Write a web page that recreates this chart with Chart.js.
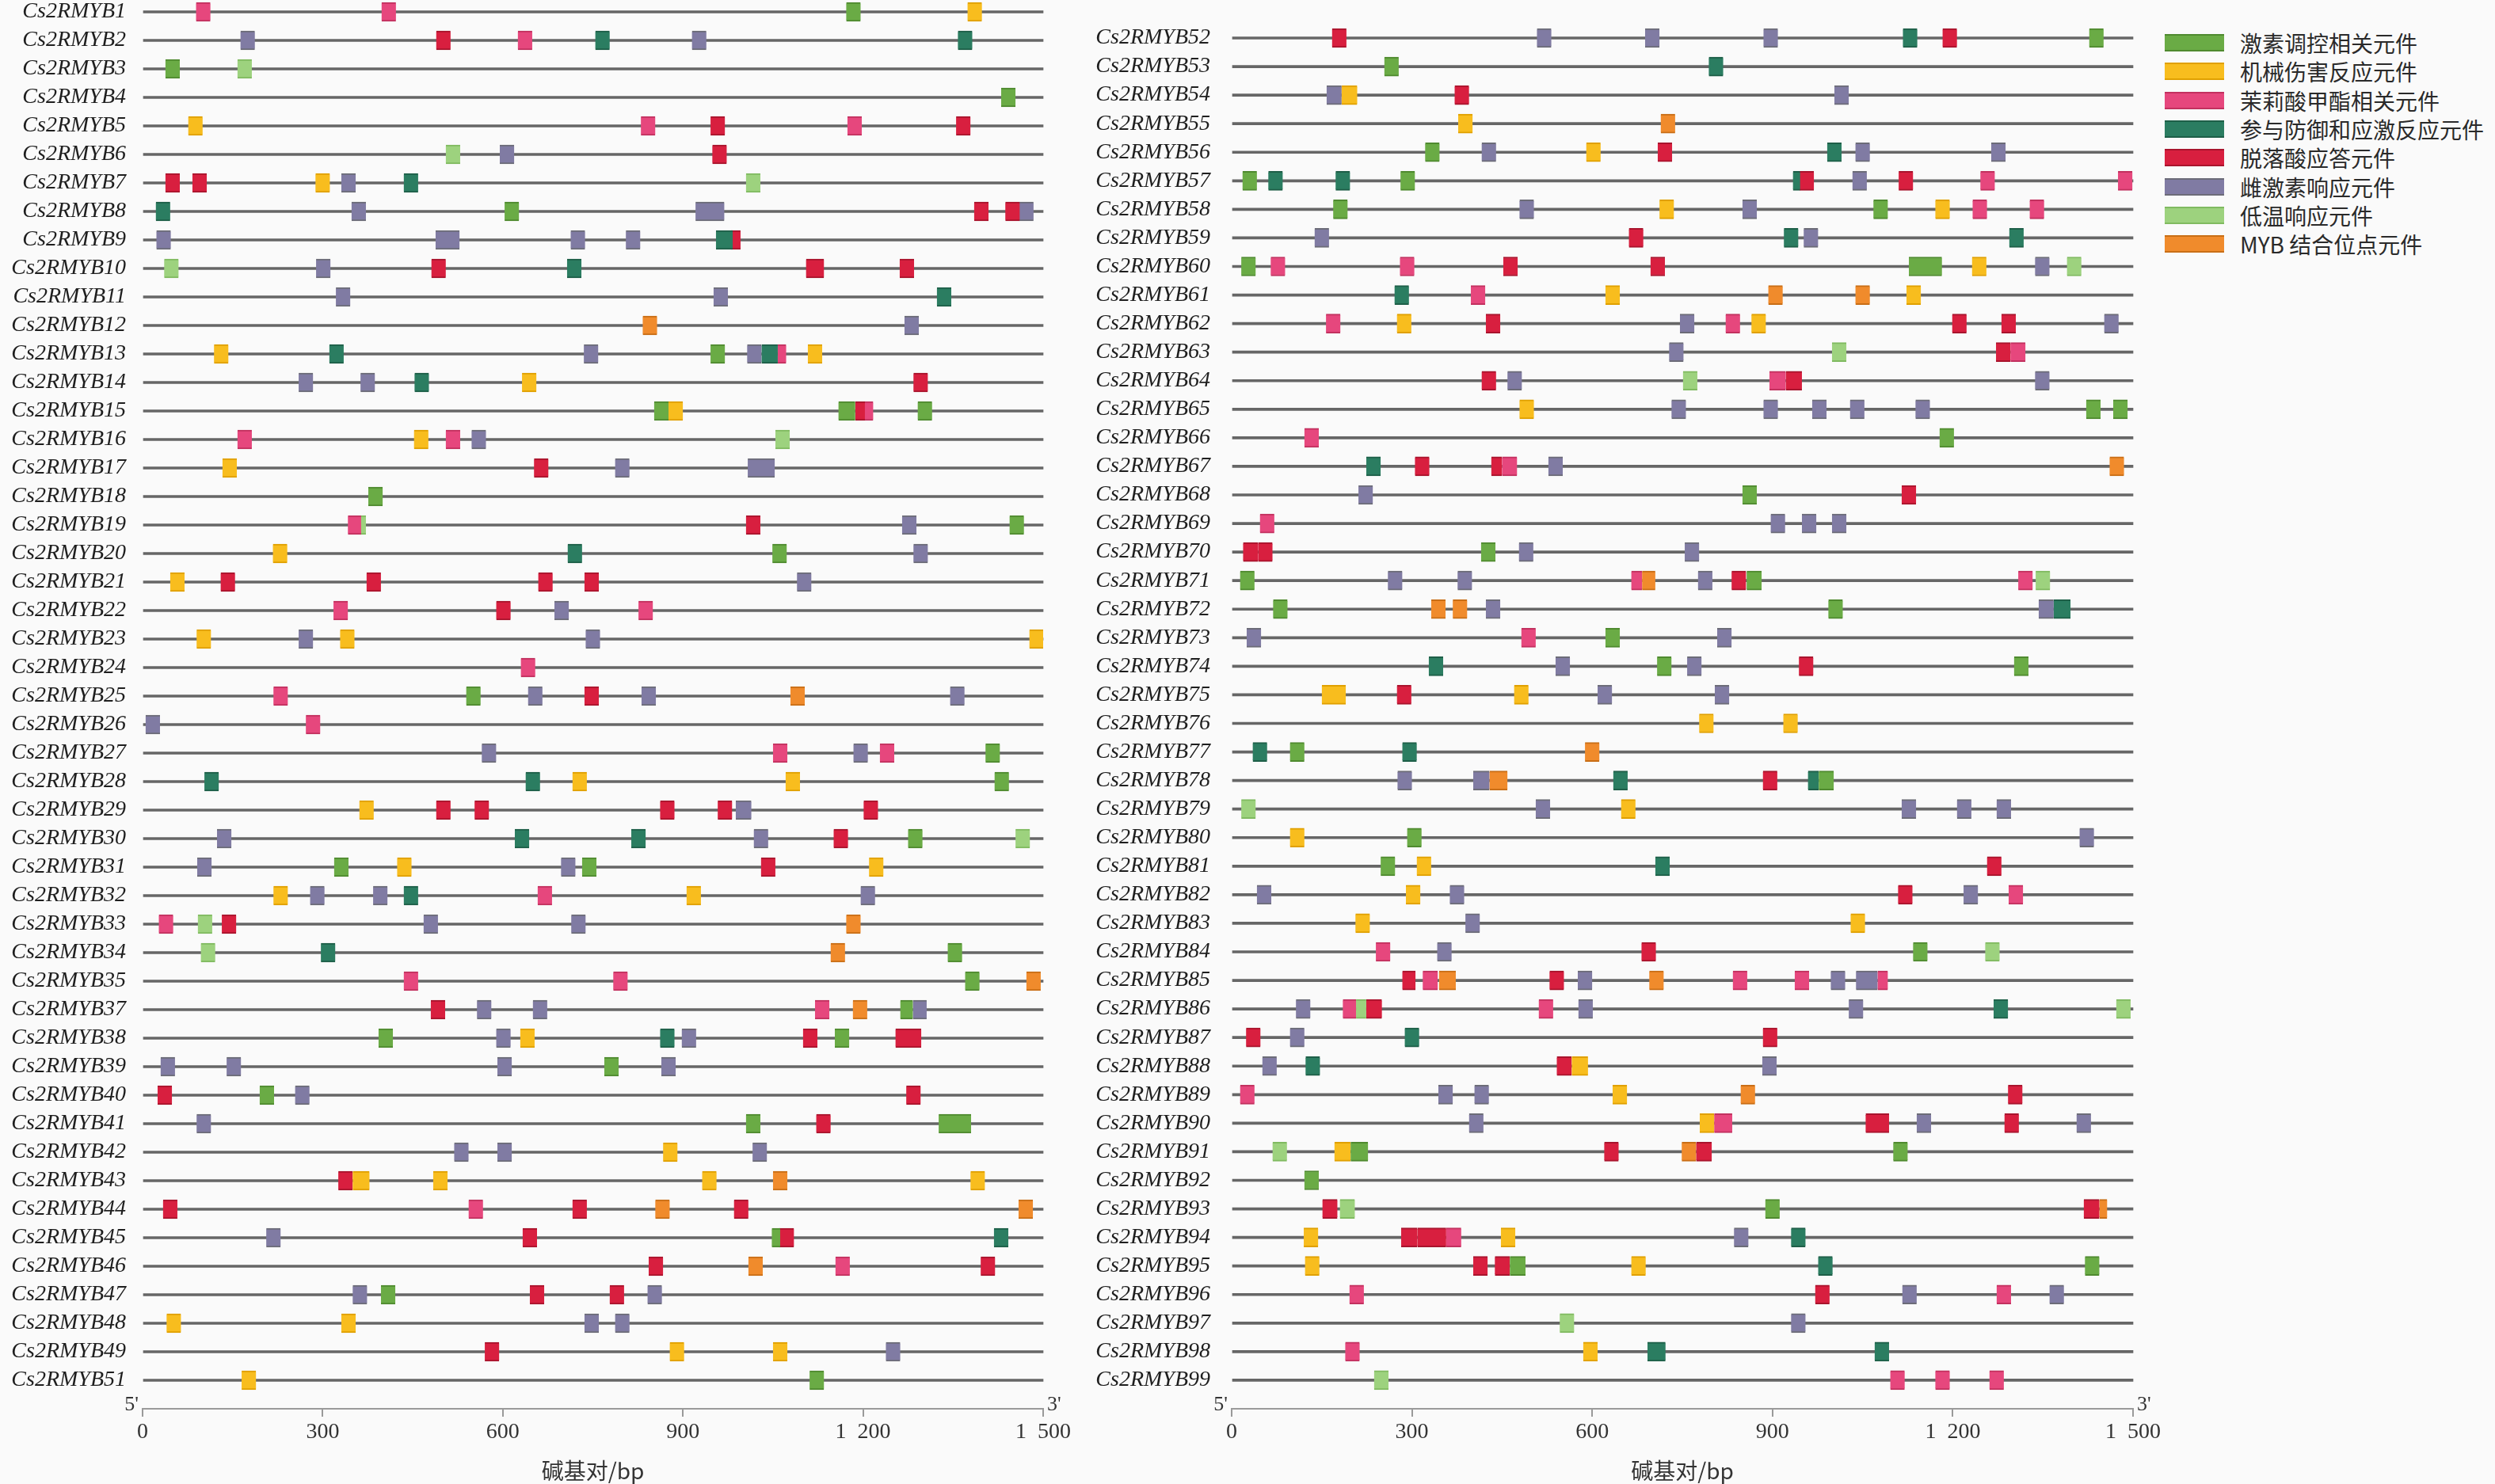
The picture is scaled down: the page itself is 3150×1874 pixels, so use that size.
<!DOCTYPE html>
<html>
<head>
<meta charset="utf-8">
<script src="https://cdn.jsdelivr.net/npm/chart.js@4.4.1/dist/chart.umd.min.js"></script>
<style>
html,body{margin:0;padding:0;background:#fafafa;width:3150px;height:1874px;overflow:hidden;position:relative;}
.wrap{position:absolute;top:-40px;height:1914px;}
#wl{left:0;width:1357px;}
#wr{left:1360px;width:1373px;}
#legend{position:absolute;left:2733px;top:43px;width:420px;height:300px;}
.li{position:absolute;left:0;height:22px;width:420px;}
.sw{position:absolute;left:0;top:0;width:75px;height:18px;border-top:2px solid;border-bottom:2px solid;}
.lt{position:absolute;left:95px;top:-10px;line-height:42px;font-family:"Noto Sans CJK SC",sans-serif;font-size:28px;color:#2a2a2a;white-space:nowrap;}
</style>
</head>
<body>
<div class="wrap" id="wl"><canvas id="cl"></canvas></div>
<div class="wrap" id="wr"><canvas id="cr"></canvas></div>
<div id="legend"></div>
<script>
// ---------- DATA ----------
const leftGenes = ["Cs2RMYB1","Cs2RMYB2","Cs2RMYB3","Cs2RMYB4","Cs2RMYB5","Cs2RMYB6","Cs2RMYB7","Cs2RMYB8","Cs2RMYB9","Cs2RMYB10",
"Cs2RMYB11","Cs2RMYB12","Cs2RMYB13","Cs2RMYB14","Cs2RMYB15","Cs2RMYB16","Cs2RMYB17","Cs2RMYB18","Cs2RMYB19","Cs2RMYB20",
"Cs2RMYB21","Cs2RMYB22","Cs2RMYB23","Cs2RMYB24","Cs2RMYB25","Cs2RMYB26","Cs2RMYB27","Cs2RMYB28","Cs2RMYB29","Cs2RMYB30",
"Cs2RMYB31","Cs2RMYB32","Cs2RMYB33","Cs2RMYB34","Cs2RMYB35","Cs2RMYB37","Cs2RMYB38","Cs2RMYB39","Cs2RMYB40","Cs2RMYB41",
"Cs2RMYB42","Cs2RMYB43","Cs2RMYB44","Cs2RMYB45","Cs2RMYB46","Cs2RMYB47","Cs2RMYB48","Cs2RMYB49","Cs2RMYB51"];
const rightGenes = ["Cs2RMYB52","Cs2RMYB53","Cs2RMYB54","Cs2RMYB55","Cs2RMYB56","Cs2RMYB57","Cs2RMYB58","Cs2RMYB59","Cs2RMYB60","Cs2RMYB61",
"Cs2RMYB62","Cs2RMYB63","Cs2RMYB64","Cs2RMYB65","Cs2RMYB66","Cs2RMYB67","Cs2RMYB68","Cs2RMYB69","Cs2RMYB70","Cs2RMYB71",
"Cs2RMYB72","Cs2RMYB73","Cs2RMYB74","Cs2RMYB75","Cs2RMYB76","Cs2RMYB77","Cs2RMYB78","Cs2RMYB79","Cs2RMYB80","Cs2RMYB81",
"Cs2RMYB82","Cs2RMYB83","Cs2RMYB84","Cs2RMYB85","Cs2RMYB86","Cs2RMYB87","Cs2RMYB88","Cs2RMYB89","Cs2RMYB90","Cs2RMYB91",
"Cs2RMYB92","Cs2RMYB93","Cs2RMYB94","Cs2RMYB95","Cs2RMYB96","Cs2RMYB97","Cs2RMYB98","Cs2RMYB99"];
const typeNames = ["激素调控相关元件","机械伤害反应元件","茉莉酸甲酯相关元件","参与防御和应激反应元件","脱落酸应答元件","雌激素响应元件","低温响应元件","MYB 结合位点元件"];
const xTickLabels = ["0","300","600","900","1\u2002200","1\u2002500"];
const geneLength = 1500;

// each element: [gene number, start bp, end bp]
const hormone = [[1,1172,1196],[3,38,62],[4,1430,1454],[8,603,627],[13,946,970],[15,852,876],[15,1159,1187],[15,1291,1315],[18,376,400],[19,1444,1468],[20,1049,1073],[25,539,563],[27,1404,1428],[28,1419,1443],[30,1275,1299],[31,319,343],[31,732,756],[34,1341,1365],[35,1370,1394],[37,1262,1283],[38,393,417],[38,1153,1177],[39,769,793],[40,195,219],[41,1005,1029],[41,1326,1380],[45,1048,1062],[47,397,421],[51,1111,1135],
[52,1427,1451],[53,254,278],[56,322,346],[57,18,42],[57,281,305],[58,169,193],[58,1068,1092],[60,16,40],[60,1127,1182],[65,1422,1446],[65,1467,1491],[66,1178,1202],[68,850,874],[70,415,439],[71,14,38],[71,857,882],[72,69,93],[72,993,1017],[73,622,646],[74,708,732],[74,1302,1326],[77,97,121],[78,977,1002],[80,292,316],[81,248,272],[84,1134,1158],[91,198,227],[91,1101,1125],[92,121,145],[93,888,912],[95,463,489],[95,1420,1444]];
const wound = [[1,1374,1398],[5,76,100],[7,288,312],[13,119,143],[13,1108,1132],[14,632,656],[15,876,900],[16,452,476],[17,133,157],[20,217,241],[21,46,70],[23,90,114],[23,329,353],[23,1477,1500],[28,716,740],[28,1071,1095],[29,361,385],[31,424,448],[31,1210,1234],[32,218,242],[32,906,930],[38,629,653],[42,867,891],[43,350,378],[43,484,508],[43,932,956],[43,1379,1403],[48,40,64],[48,331,355],[49,878,902],[49,1050,1074],[51,165,189],
[54,183,209],[55,377,401],[56,590,614],[58,712,736],[58,1171,1195],[60,1232,1256],[61,622,646],[61,1123,1147],[62,275,299],[62,865,889],[65,479,503],[75,150,190],[75,470,494],[76,778,802],[76,918,942],[79,648,672],[80,97,121],[81,308,332],[82,290,314],[83,206,230],[83,1030,1054],[88,566,593],[89,634,658],[90,779,803],[91,171,198],[94,120,144],[94,448,472],[95,122,146],[95,665,689],[98,585,609]];
const meja = [[1,89,113],[1,398,422],[2,625,649],[5,830,854],[5,1174,1198],[13,1058,1072],[15,1203,1217],[16,158,182],[16,505,529],[19,342,364],[22,318,342],[22,826,850],[24,630,654],[25,218,242],[26,272,296],[27,1050,1074],[27,1228,1252],[32,658,682],[33,27,51],[35,435,459],[35,784,808],[37,1120,1144],[44,543,567],[46,1154,1178],
[57,1246,1270],[57,1475,1499],[58,1233,1257],[58,1328,1352],[60,65,89],[60,280,304],[61,398,422],[62,157,181],[62,822,846],[63,1296,1321],[64,895,922],[66,121,145],[67,450,475],[69,47,71],[71,665,683],[71,1309,1333],[73,482,506],[82,1293,1317],[84,240,264],[85,318,343],[85,834,858],[85,937,961],[85,1075,1092],[86,185,207],[86,511,535],[89,14,38],[90,803,833],[94,357,382],[96,196,220],[96,1273,1297],[98,189,213],[99,1096,1120],[99,1171,1195],[99,1261,1285]];
const defense = [[2,754,778],[2,1358,1382],[7,435,459],[8,22,46],[9,955,983],[10,707,731],[11,1323,1347],[13,311,335],[13,1031,1058],[14,453,477],[20,708,732],[28,103,127],[28,638,662],[30,620,644],[30,814,838],[32,435,459],[34,297,321],[38,862,886],[45,1418,1442],
[52,1117,1141],[53,794,818],[56,991,1015],[57,61,85],[57,173,197],[57,934,946],[59,919,943],[59,1294,1318],[61,271,295],[67,224,248],[72,1368,1396],[74,328,352],[77,35,59],[77,284,308],[78,635,659],[78,959,977],[81,705,729],[86,1268,1292],[87,288,312],[88,123,147],[94,931,955],[95,976,1000],[98,692,722],[98,1070,1094]];
const aba = [[2,489,513],[5,946,970],[5,1355,1379],[6,949,973],[7,38,62],[7,83,107],[8,1385,1409],[8,1437,1461],[9,980,996],[10,481,505],[10,1105,1135],[10,1261,1285],[14,1284,1308],[15,1187,1204],[17,652,676],[19,1005,1029],[21,130,154],[21,373,397],[21,659,683],[21,736,760],[22,589,613],[25,736,760],[29,489,513],[29,553,577],[29,862,886],[29,958,982],[29,1201,1225],[30,1151,1175],[31,1030,1054],[33,132,156],[37,480,504],[38,1100,1124],[38,1254,1297],[40,25,49],[40,1272,1296],[41,1122,1146],[43,326,350],[44,34,58],[44,716,740],[44,985,1009],[45,633,657],[45,1060,1085],[46,843,867],[46,1396,1420],[47,645,669],[47,778,802],[49,570,594],
[52,167,191],[52,1183,1207],[54,371,395],[56,709,733],[57,945,969],[57,1110,1134],[59,661,685],[60,452,476],[60,697,721],[62,423,447],[62,1199,1223],[62,1281,1305],[63,1272,1296],[64,416,440],[64,922,949],[67,305,329],[67,432,450],[68,1115,1139],[70,19,44],[70,44,68],[71,832,856],[74,944,968],[75,275,299],[78,884,908],[81,1257,1281],[82,1109,1133],[84,682,706],[85,284,306],[85,529,553],[86,224,250],[87,24,48],[87,884,908],[88,541,566],[89,1292,1316],[90,1055,1094],[90,1286,1310],[91,620,644],[91,773,799],[93,151,176],[93,1418,1444],[94,282,309],[94,309,357],[95,402,426],[95,438,463],[96,971,995]];
const estrogen = [[2,163,187],[2,915,939],[6,595,619],[7,331,355],[8,348,372],[8,921,969],[8,1460,1484],[9,23,47],[9,488,528],[9,713,737],[9,805,829],[10,289,313],[11,322,346],[11,951,975],[12,1269,1293],[13,735,759],[13,1007,1031],[14,260,284],[14,363,387],[16,548,572],[17,787,811],[17,1008,1053],[19,1265,1289],[20,1284,1308],[21,1090,1114],[22,686,710],[23,260,284],[23,738,762],[25,642,666],[25,831,855],[25,1345,1369],[26,5,29],[27,565,589],[27,1184,1208],[29,988,1014],[30,124,148],[30,1018,1042],[31,91,115],[31,697,721],[32,279,303],[32,384,408],[32,1196,1220],[33,468,492],[33,714,738],[37,557,581],[37,650,674],[37,1283,1306],[38,589,613],[38,898,922],[39,30,54],[39,140,164],[39,591,615],[39,864,888],[40,254,278],[41,90,114],[42,519,543],[42,591,615],[42,1016,1040],[45,206,230],[47,350,374],[47,841,865],[48,736,760],[48,787,811],[49,1238,1262],
[52,508,532],[52,688,712],[52,885,909],[54,158,183],[54,1003,1027],[56,416,440],[56,1038,1062],[56,1264,1288],[57,1033,1057],[58,479,503],[58,850,874],[59,138,162],[59,952,976],[60,1337,1361],[62,746,770],[62,1452,1476],[63,728,752],[64,459,483],[64,1337,1361],[65,732,756],[65,885,909],[65,966,990],[65,1029,1053],[65,1138,1162],[67,527,551],[68,211,235],[69,897,921],[69,949,973],[69,999,1023],[70,478,502],[70,754,778],[71,260,284],[71,376,400],[71,776,800],[72,423,447],[72,1343,1368],[73,25,49],[73,808,832],[74,539,563],[74,758,782],[75,609,633],[75,804,828],[78,276,300],[78,402,429],[79,506,530],[79,1115,1139],[79,1207,1231],[79,1273,1297],[80,1411,1435],[82,42,66],[82,363,387],[82,1218,1242],[83,389,413],[84,342,366],[85,576,600],[85,997,1021],[85,1039,1075],[86,107,131],[86,577,601],[86,1027,1051],[87,97,121],[88,51,75],[88,883,907],[89,344,368],[89,404,428],[90,395,419],[90,1140,1164],[90,1406,1430],[94,836,860],[96,1116,1140],[96,1361,1385],[97,931,955]];
const lowTemp = [[3,158,182],[6,505,529],[7,1005,1029],[10,36,60],[16,1054,1078],[19,362,372],[30,1454,1478],[33,92,116],[34,97,121],
[60,1390,1414],[63,999,1023],[64,751,775],[71,1338,1362],[79,16,40],[84,1254,1278],[86,207,224],[86,1472,1496],[91,68,92],[93,180,205],[97,546,570],[99,237,261]];
const myb = [[12,833,857],[25,1079,1103],[33,1172,1196],[34,1146,1170],[35,1472,1496],[37,1183,1207],[43,1050,1074],[44,854,878],[44,1459,1483],[46,1009,1033],
[55,714,738],[61,893,917],[61,1038,1062],[67,1461,1485],[71,683,705],[72,332,356],[72,368,392],[77,588,612],[78,429,459],[85,345,373],[85,695,719],[89,847,871],[91,749,773],[93,1444,1457]];

// ---------- STYLE ----------
const typeData = [hormone, wound, meja, defense, aba, estrogen, lowTemp, myb];
const typeColors = ['#6aab45','#f8bd1e','#e6477d','#2b7d61','#d81f3f','#807ba3','#9dd27e','#f08b2c'];
const typeEdges  = ['#4f8a2f','#e0a000','#c2315f','#1e5f48','#a9142d','#6c6c78','#80ba60','#c96e16'];

const endLabels = {
  id: 'endLabels',
  afterDraw(chart) {
    const {ctx, chartArea} = chart;
    ctx.save();
    ctx.fillStyle = '#333';
    ctx.font = '26px "Liberation Serif", serif';
    ctx.textBaseline = 'middle';
    ctx.textAlign = 'right';
    ctx.fillText("5'", chartArea.left - 5, chartArea.bottom - 5);
    ctx.textAlign = 'left';
    ctx.fillText("3'", chartArea.right + 5, chartArea.bottom - 5);
    ctx.restore();
  }
};

function makeChart(canvasId, genes, cfg) {
  const rowOf = {};
  genes.forEach((g, i) => { rowOf[g] = i; });
  const datasets = typeData.map((arr, t) => ({
    label: typeNames[t],
    data: arr.filter(e => rowOf['Cs2RMYB' + e[0]] !== undefined)
             .map(e => ({x: [e[1], e[2]], y: rowOf['Cs2RMYB' + e[0]]})),
    backgroundColor: typeColors[t],
    borderColor: typeEdges[t],
    borderWidth: {top: 2, bottom: 2, left: 0, right: 0},
    borderSkipped: false,
    maxBarThickness: 24,
    order: 1
  }));
  datasets.push({
    label: 'gene',
    data: genes.map((g, i) => ({x: [0, geneLength], y: i})),
    backgroundColor: '#666666',
    borderWidth: 0,
    maxBarThickness: 3,
    order: 10
  });
  return new Chart(document.getElementById(canvasId), {
    type: 'bar',
    data: {datasets},
    plugins: [endLabels],
    options: {
      indexAxis: 'y',
      animation: false,
      responsive: true,
      maintainAspectRatio: false,
      devicePixelRatio: 1,
      datasets: {bar: {grouped: false, barPercentage: 1, categoryPercentage: 1, clip: false}},
      layout: {padding: {top: cfg.top, right: 40, bottom: 0, left: 0}},
      plugins: {legend: {display: false}, tooltip: {enabled: false}},
      scales: {
        x: {
          type: 'linear', min: 0, max: geneLength, stacked: false, position: 'bottom',
          ticks: {stepSize: 300, autoSkip: false, maxRotation: 0, padding: 3, color: '#333',
                  font: {family: '"Liberation Serif", serif', size: 28},
                  callback: (v, i) => xTickLabels[i]},
          grid: {display: true, drawOnChartArea: false, drawTicks: true, tickLength: 10, color: '#9a9a9a', lineWidth: 2},
          border: {display: true, color: '#9a9a9a', width: 2},
          title: {display: true, text: '碱基对/bp', color: '#333', padding: 0,
                  font: {family: '"Noto Sans CJK SC", sans-serif', size: 28}},
          afterFit: s => { s.height = 95; }
        },
        y: {
          type: 'linear', reverse: true, min: 0, max: genes.length, offset: false,
          afterBuildTicks: s => { s.ticks = genes.map((g, i) => ({value: i})); },
          ticks: {autoSkip: false, padding: cfg.pad, color: '#1e1e1e',
                  font: {family: '"Liberation Serif", serif', size: 28, style: 'italic'},
                  callback: v => genes[v]},
          grid: {display: false, drawTicks: false, offset: false},
          border: {display: false},
          afterFit: s => { s.width = cfg.yWidth; }
        }
      }
    }
  });
}

makeChart('cl', leftGenes, {top: 55, pad: 21, yWidth: 180});
makeChart('cr', rightGenes, {top: 88, pad: 27, yWidth: 195});

// legend
const legend = document.getElementById('legend');
typeNames.forEach((name, i) => {
  const item = document.createElement('div');
  item.className = 'li';
  item.style.top = (i * 36.3) + 'px';
  const sw = document.createElement('div');
  sw.className = 'sw';
  sw.style.background = typeColors[i];
  sw.style.borderColor = typeEdges[i];
  const tx = document.createElement('div');
  tx.className = 'lt';
  tx.textContent = name;
  item.appendChild(sw); item.appendChild(tx);
  legend.appendChild(item);
});
</script>
</body>
</html>
